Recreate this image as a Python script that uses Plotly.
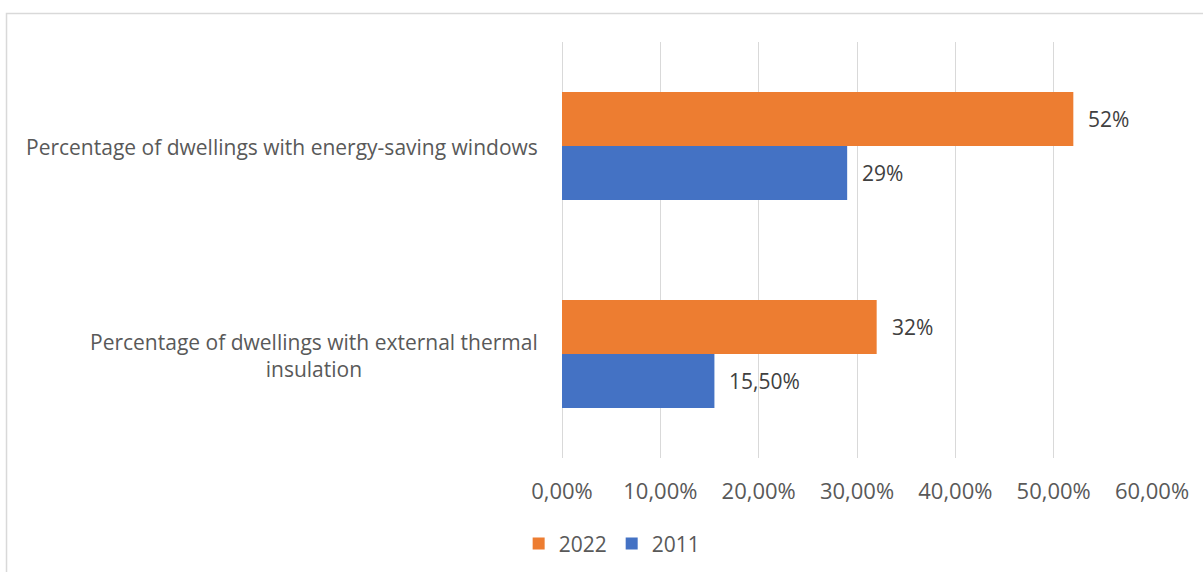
import plotly.graph_objects as go

# Dwelling energy-efficiency indicators, share of dwellings
categories = [
    "Percentage of dwellings with external thermal<br>insulation",
    "Percentage of dwellings with energy-saving windows",
]
years = ["2011", "2022"]
values_2011 = [0.155, 0.29]
values_2022 = [0.32, 0.52]
x_ticks = [0, 0.1, 0.2, 0.3, 0.4, 0.5, 0.6]

colors = {"2011": "#4472C4", "2022": "#ED7D31"}
series = {"2011": values_2011, "2022": values_2022}

FONT = "Open Sans, Liberation Sans, sans-serif"
AXIS_GREY = "#595959"


def pct_label(v):
    p = round(v * 100, 2)
    if abs(p - round(p)) < 1e-9:
        return f"{int(round(p))}%"
    return f"{p:.2f}".replace(".", ",") + "%"


fig = go.Figure()
for year in years:
    fig.add_trace(go.Bar(
        name=year,
        y=list(range(len(categories))),
        x=series[year],
        orientation="h",
        marker=dict(color=colors[year], line=dict(width=0)),
        hoverinfo="skip",
    ))

annotations = []
# value labels beside each bar end
for year, shift in (("2011", -27), ("2022", 27)):
    for i, v in enumerate(series[year]):
        annotations.append(dict(
            x=v, y=i, xref="x", yref="y", text=pct_label(v),
            showarrow=False, xanchor="left", yanchor="middle",
            xshift=13, yshift=shift,
            font=dict(family=FONT, size=21, color="#404040"),
        ))
# category labels, centred multi-line text to the left of the axis
for i, cat in enumerate(categories):
    annotations.append(dict(
        x=0, y=i, xref="paper", yref="y", text=cat,
        showarrow=False, xanchor="right", yanchor="middle", align="center",
        xshift=-22, yshift=-1,
        font=dict(family=FONT, size=21, color=AXIS_GREY),
    ))

fig.update_layout(
    width=1203, height=572,
    margin=dict(l=562, r=51, t=42, b=114, autoexpand=False),
    paper_bgcolor="white", plot_bgcolor="white",
    barmode="group", bargap=0.48, bargroupgap=0,
    separators=",.",
    font=dict(family=FONT, size=21, color=AXIS_GREY),
    showlegend=True,
    legend=dict(
        orientation="h", traceorder="reversed",
        x=0.085, xanchor="center", y=-0.2064, yanchor="middle",
        font=dict(family=FONT, size=21, color=AXIS_GREY),
        itemwidth=30, bgcolor="rgba(0,0,0,0)",
    ),
    xaxis=dict(
        range=[0, 0.6], tickvals=x_ticks, tickformat=".2%",
        showgrid=True, gridcolor="#d9d9d9", gridwidth=1.3,
        zeroline=True, zerolinecolor="#d9d9d9", zerolinewidth=1.3,
        showline=False, ticks="", ticklabelstandoff=18, automargin=False,
        tickfont=dict(family=FONT, size=22, color=AXIS_GREY),
    ),
    yaxis=dict(
        range=[-0.5, 1.5], showticklabels=False, showgrid=False,
        zeroline=False, showline=False, ticks="", automargin=False,
    ),
    annotations=annotations,
    shapes=[dict(
        type="rect", xref="paper", yref="paper",
        x0=-0.9415, x1=2.0, y0=-1.0, y1=1.0685,
        line=dict(color="#d9d9d9", width=1.5), fillcolor="rgba(0,0,0,0)",
        layer="below",
    )],
)

fig.write_html("out.html")
